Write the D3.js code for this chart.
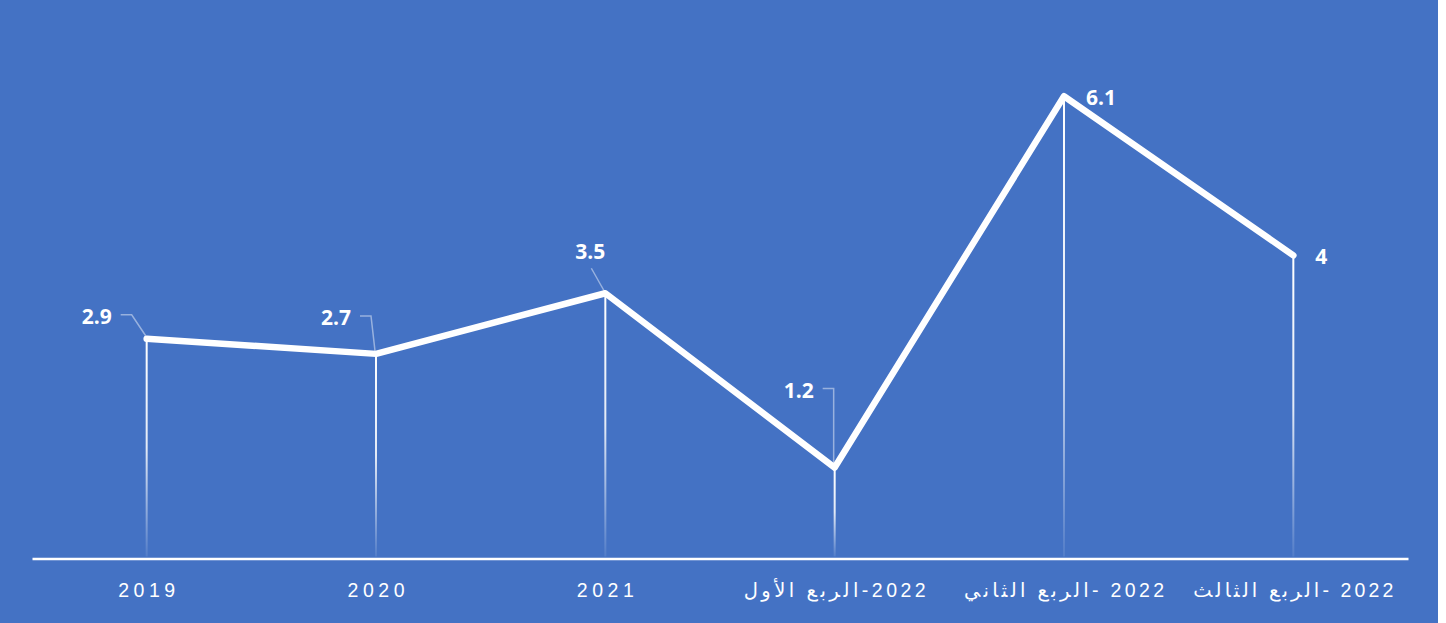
<!DOCTYPE html>
<html>
<head>
<meta charset="utf-8">
<script src="https://cdn.jsdelivr.net/npm/d3@7"></script>
<style>
  html, body { margin: 0; padding: 0; background: #fff; }
  svg { display: block; }
</style>
</head>
<body>
<div id="chart"></div>
<script>
// categories and values
const categories = ["2019", "2020", "2021", "2022-الربع الأول", "2022 -الربع الثاني", "2022 -الربع الثالث"];
const values = [2.9, 2.7, 3.5, 1.2, 6.1, 4];
const valueLabels = ["2.9", "2.7", "3.5", "1.2", "6.1", "4"];

// manual label placement (like the excel data labels), [dx, dy] from the point
const labelOffsets = [[-50, -22], [-40, -36], [-15, -42], [-36, -77], [37, 1], [28, 1]];
const leaderType = ["side", "side", "bottom", "side", null, null];
// rendered width of the axis labels in the picture (letter spaced)
const tickWidths = [57, 57, 57, 182, 200, 200];

const W = 1446, H = 623;
const margin = {top: 28, left: 32, right: 38, bottom: 64};

const svg = d3.select("#chart").append("svg")
    .attr("width", W)
    .attr("height", H);

svg.append("rect")
    .attr("x", 0).attr("y", 0)
    .attr("width", 1438).attr("height", H)
    .attr("fill", "#4472C4");

const defs = svg.append("defs");
const grad = defs.append("linearGradient")
    .attr("id", "dropFade")
    .attr("x1", 0).attr("y1", 0).attr("x2", 0).attr("y2", 1);
grad.append("stop").attr("offset", "0%").attr("stop-color", "#fff").attr("stop-opacity", 1);
grad.append("stop").attr("offset", "50%").attr("stop-color", "#fff").attr("stop-opacity", 0.85);
grad.append("stop").attr("offset", "100%").attr("stop-color", "#fff").attr("stop-opacity", 0.08);

const x = d3.scaleBand()
    .domain(categories)
    .range([margin.left, W - margin.right])
    .padding(0);

const y = d3.scaleLinear()
    .domain([0, 7])
    .range([H - margin.bottom - 0.5, margin.top]);

const cx = d => x(d) + x.bandwidth() / 2;

// drop lines (fading toward the axis)
svg.selectAll(".drop")
    .data(categories)
    .enter().append("rect")
    .attr("class", "drop")
    .attr("x", d => cx(d) - 1)
    .attr("y", (d, i) => y(values[i]))
    .attr("width", 2)
    .attr("height", (d, i) => y(0) - 2 - y(values[i]))
    .attr("fill", "url(#dropFade)");

// axis
const axis = svg.append("g")
    .attr("transform", `translate(0, ${y(0)})`)
    .call(d3.axisBottom(x).tickSize(0).tickPadding(0));
axis.select(".domain")
    .attr("stroke", "#fff")
    .attr("stroke-width", 2.5);
axis.selectAll(".tick text")
    .attr("y", 38)
    .attr("dy", 0)
    .style("direction", (d, i) => i >= 3 ? "rtl" : "ltr")
    .attr("text-anchor", "middle")
    .attr("textLength", (d, i) => tickWidths[i])
    .attr("lengthAdjust", "spacing")
    .attr("fill", "#fff")
    .style("font-family", "'Liberation Sans', 'DejaVu Sans', sans-serif")
    .style("font-size", "19.5px");

// the line
const line = d3.line()
    .x((d, i) => cx(categories[i]))
    .y(d => y(d));

svg.append("path")
    .datum(values)
    .attr("fill", "none")
    .attr("stroke", "#fff")
    .attr("stroke-width", 6.5)
    .attr("stroke-linejoin", "round")
    .attr("stroke-linecap", "round")
    .attr("d", line);

// leader lines
svg.selectAll(".leader")
    .data(values)
    .enter().append("path")
    .attr("class", "leader")
    .attr("fill", "none")
    .attr("stroke", "rgba(255,255,255,0.45)")
    .attr("stroke-width", 1.5)
    .attr("d", (d, i) => {
        const t = leaderType[i];
        if (!t) return null;
        const px = cx(categories[i]), py = y(d);
        const lx = px + labelOffsets[i][0], ly = py + labelOffsets[i][1];
        if (t === "side") {
            const sx = lx + 24, sy = ly - 2;
            return `M${sx},${sy}H${sx + 11}L${px - 1},${py - 3}`;
        }
        return `M${lx + 1},${ly + 17}L${px - 1},${py - 2}`;
    });

// data labels
svg.selectAll(".vlabel")
    .data(values)
    .enter().append("text")
    .attr("class", "vlabel")
    .attr("x", (d, i) => cx(categories[i]) + labelOffsets[i][0])
    .attr("y", (d, i) => y(d) + labelOffsets[i][1] + 7.5)
    .attr("text-anchor", "middle")
    .attr("fill", "#fff")
    .style("font-family", "'Open Sans', sans-serif")
    .style("font-weight", 700)
    .style("font-size", "21px")
    .text((d, i) => valueLabels[i]);
</script>
</body>
</html>
